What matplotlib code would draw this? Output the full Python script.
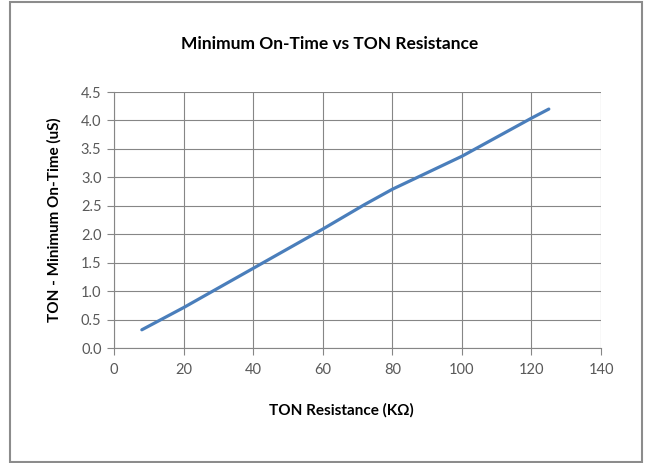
import matplotlib
matplotlib.use("Agg")
import matplotlib.pyplot as plt
from matplotlib.patches import Rectangle

# --- DATA ---------------------------------------------------------------------
resistance_kohm = [8, 20, 40, 60, 72, 80, 100, 120, 125]
min_on_time_us  = [0.32, 0.71, 1.40, 2.09, 2.52, 2.79, 3.37, 4.04, 4.20]

x_ticks = [0, 20, 40, 60, 80, 100, 120, 140]
y_ticks = [0.0, 0.5, 1.0, 1.5, 2.0, 2.5, 3.0, 3.5, 4.0, 4.5]

# --- STYLE --------------------------------------------------------------------
plt.rcParams["font.family"] = ["Lato", "DejaVu Sans"]
LINE_COLOR = "#4A7EBB"
GRID_COLOR = "#868686"
TEXT_COLOR = "#595959"

W, H = 645, 463
fig = plt.figure(figsize=(W / 100, H / 100), dpi=100)
ax = fig.add_axes([114 / W, 1 - 348 / H, 487 / W, 256 / H])

# chart border like an Excel chart area
fig.patches.append(Rectangle((9.5 / W, 1 - 461.5 / H), 632 / W, 459.5 / H,
                             transform=fig.transFigure, fill=False,
                             edgecolor="#8C8C8C", linewidth=1.5))

ax.plot(resistance_kohm, min_on_time_us, color=LINE_COLOR, linewidth=2.3,
        solid_capstyle="round")

ax.set_xlim(0, 140)
ax.set_ylim(0, 4.5)
ax.set_xticks(x_ticks)
ax.set_yticks(y_ticks)
ax.set_yticklabels([f"{v:.1f}" for v in y_ticks])
ax.grid(True, color=GRID_COLOR, linewidth=0.8)
ax.set_axisbelow(True)

for side in ["top", "right"]:
    ax.spines[side].set_visible(False)
for side in ["left", "bottom"]:
    ax.spines[side].set_color(GRID_COLOR)
    ax.spines[side].set_linewidth(0.8)

ax.tick_params(axis="both", colors=GRID_COLOR, length=5, width=0.8,
               labelcolor=TEXT_COLOR, labelsize=10.5)
ax.tick_params(axis="x", pad=6)
ax.tick_params(axis="y", pad=4)

# title and x label sit on the chart area, not centred on the plot
fig.text(330 / W, 1 - 44 / H, "Minimum On-Time vs TON Resistance",
         fontsize=12.5, fontweight="bold", ha="center", va="center")
fig.text(341 / W, 1 - 410 / H, "TON Resistance (K\u03a9)",
         fontsize=11, fontweight="bold", ha="center", va="center")
ax.set_ylabel("TON - Minimum On-Time (uS)", fontsize=11, fontweight="bold",
              labelpad=14)

fig.savefig("out.png", dpi=100)
